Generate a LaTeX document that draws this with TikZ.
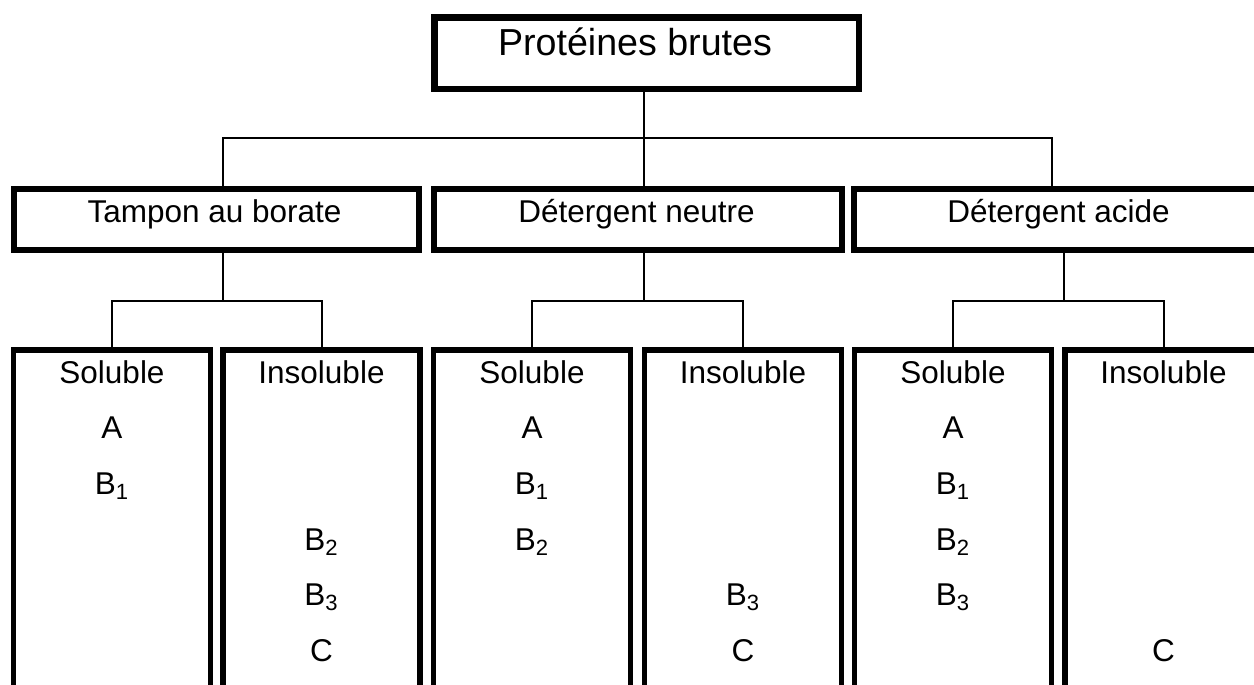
\documentclass[tikz,border=0pt]{standalone}
\usepackage{fontspec}
\setmainfont{Liberation Sans}
\begin{document}
\begin{tikzpicture}[x=0.5pt,y=-0.5pt,
  boxT/.style={draw, line width=3.25pt, inner sep=0pt, minimum width=212.25pt, minimum height=35.75pt},
  boxM/.style={draw, line width=3pt, inner sep=0pt, minimum height=30.5pt},
  colbox/.style={draw, line width=2.75pt, inner sep=0pt, minimum width=98.5pt, minimum height=200pt},
  conn/.style={line width=1pt},
  lbl/.style={anchor=base, inner sep=0pt, font=\fontsize{15.75pt}{18pt}\selectfont},
  ttl/.style={anchor=base, inner sep=0pt, font=\fontsize{18.8pt}{22pt}\selectfont}]
\clip (0,0) rectangle (1254,685);

% top box
\node[boxT] (title) at (646.5,53) {};
\node[ttl] (ttltxt) at (635,55) {Protéines brutes};

% middle boxes
\node[boxM, minimum width=202.5pt] (tampon) at (216.5,219.5) {};
\node[boxM, minimum width=204pt] (neutre) at (638,219.5) {};
\node[boxM, minimum width=204pt] (acide) at (1058,219.5) {};
\node[lbl] (ttamp) at (214.5,222.5) {Tampon au borate};
\node[lbl] (tneut) at (636.5,222.5) {Détergent neutre};
\node[lbl] (tacid) at (1058.5,222.5) {Détergent acide};

% columns
\node[colbox] (c1) at (112,550) {};
\node[colbox] (c2) at (321.5,550) {};
\node[colbox] (c3) at (532,550) {};
\node[colbox] (c4) at (743,550) {};
\node[colbox] (c5) at (953,550) {};
\node[colbox] (c6) at (1163.5,550) {};

% connectors level 1
\coordinate (j0) at (644,138);
\coordinate (jl) at (223,138);
\coordinate (jr) at (1052,138);
\draw[conn] (title.south -| j0) -- (j0);
\draw[conn] (tampon.north -| jl) -- (jl) -- (jr) -- (acide.north -| jr);
\draw[conn] (j0) -- (neutre.north -| j0);

% connectors level 2
\coordinate (k1) at (223,301);
\coordinate (k2) at (644,301);
\coordinate (k3) at (1064,301);
\draw[conn] (tampon.south -| k1) -- (k1);
\draw[conn] (c1.north) -- (c1.north |- k1) -- (c2.north |- k1) -- (c2.north);
\draw[conn] (neutre.south -| k2) -- (k2);
\draw[conn] (c3.north) -- (c3.north |- k2) -- (c4.north |- k2) -- (c4.north);
\draw[conn] (acide.south -| k3) -- (k3);
\draw[conn] (c5.north) -- (c5.north |- k3) -- (c6.north |- k3) -- (c6.north);

% column texts
\node[lbl] (h1) at (112,383) {Soluble};
\node[lbl] (h2) at (321.5,383) {Insoluble};
\node[lbl] (h3) at (532,383) {Soluble};
\node[lbl] (h4) at (743,383) {Insoluble};
\node[lbl] (h5) at (953,383) {Soluble};
\node[lbl] (h6) at (1163.5,383) {Insoluble};

\node[lbl] (a1) at (112,438) {A};
\node[lbl] (b11) at (112,494) {B\textsubscript{1}};

\node[lbl] (b22) at (321.5,550) {B\textsubscript{2}};
\node[lbl] (b32) at (321.5,605) {B\textsubscript{3}};
\node[lbl] (cc2) at (321.5,661) {C};

\node[lbl] (a3) at (532,438) {A};
\node[lbl] (b13) at (532,494) {B\textsubscript{1}};
\node[lbl] (b23) at (532,550) {B\textsubscript{2}};

\node[lbl] (b34) at (743,605) {B\textsubscript{3}};
\node[lbl] (cc4) at (743,661) {C};

\node[lbl] (a5) at (953,438) {A};
\node[lbl] (b15) at (953,494) {B\textsubscript{1}};
\node[lbl] (b25) at (953,550) {B\textsubscript{2}};
\node[lbl] (b35) at (953,605) {B\textsubscript{3}};

\node[lbl] (cc6) at (1163.5,661) {C};
\end{tikzpicture}
\end{document}
